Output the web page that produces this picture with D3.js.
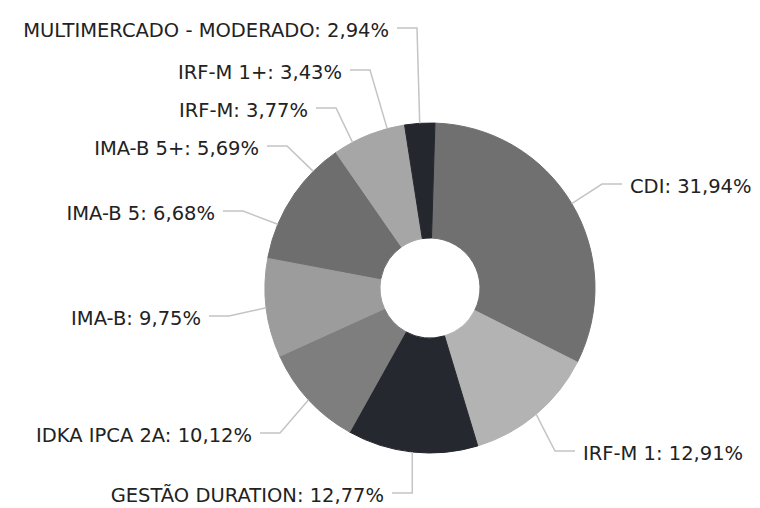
<!DOCTYPE html>
<html>
<head>
<meta charset="utf-8">
<script src="https://cdn.jsdelivr.net/npm/d3@7"></script>
<style>
  body { margin: 0; background: #fff; }
  text { font-family: "DejaVu Sans", Verdana, sans-serif; }
</style>
</head>
<body>
<svg></svg>
<script>
// data
const categories = ["CDI", "IRF-M 1", "GESTÃO DURATION", "IDKA IPCA 2A", "IMA-B",
  "IMA-B 5", "IMA-B 5+", "IRF-M", "IRF-M 1+", "MULTIMERCADO - MODERADO"];
const values = [31.94, 12.91, 12.77, 10.12, 9.75, 6.68, 5.69, 3.77, 3.43, 2.94];
const colours = ["#707070", "#b3b3b3", "#25292f", "#7e7e7e", "#9c9c9c",
  "#6e6e6e", "#6e6e6e", "#a6a6a6", "#a6a6a6", "#24282e"];

// label layout (where each text sits)
const labelX = [630, 583, 384, 252, 201, 215, 259, 308, 342, 389];
const labelY = [186, 453, 495, 435, 318, 213, 148, 110, 72, 30];

const WIDTH = 760;
const HEIGHT = 508;
const CX = 430, CY = 288;
const R_OUT = 165, R_IN = 50;
const OFFSET = 0.03;

let svg = d3.select('svg').attr('width', WIDTH).attr('height', HEIGHT);

let pie = d3.pie().sort(null).value(d => d)
  .startAngle(OFFSET).endAngle(2 * Math.PI + OFFSET);
let arcs = pie(values);
let arc = d3.arc().innerRadius(R_IN).outerRadius(R_OUT);

let g = svg.append('g').attr('transform', `translate(${CX},${CY})`);

// stroke in the same colour hides the seams between equal slices
g.selectAll('path.slice').data(arcs).enter().append('path')
  .attr('class', 'slice')
  .attr('d', arc)
  .style('fill', (d, i) => colours[i])
  .style('stroke', (d, i) => colours[i])
  .style('stroke-width', 1)
  .style('stroke-linejoin', 'round');

const fmt = v => v.toFixed(2).replace('.', ',') + '%';

// leader lines + labels
arcs.forEach(function(d, i) {
  let mid = (d.startAngle + d.endAngle) / 2;
  let px = CX + R_OUT * Math.sin(mid);
  let py = CY - R_OUT * Math.cos(mid);
  let right = mid < Math.PI;
  let side = right ? -1 : 1;
  let ly = labelY[i] - 2;
  let endX = labelX[i] + side * 8;
  let elbowX = endX + side * 20;
  if (i == 2) elbowX = px;
  svg.append('polyline')
    .attr('points', [[px, py], [elbowX, ly], [endX, ly]].map(p => p.join(',')).join(' '))
    .style('fill', 'none')
    .style('stroke', '#c4c4c4')
    .style('stroke-width', 1.5);
  svg.append('text')
    .attr('x', labelX[i])
    .attr('y', labelY[i])
    .attr('dy', '0.36em')
    .attr('text-anchor', right ? 'start' : 'end')
    .style('font-size', '19.5px')
    .style('fill', '#222')
    .text(categories[i] + ': ' + fmt(values[i]));
});
</script>
</body>
</html>
